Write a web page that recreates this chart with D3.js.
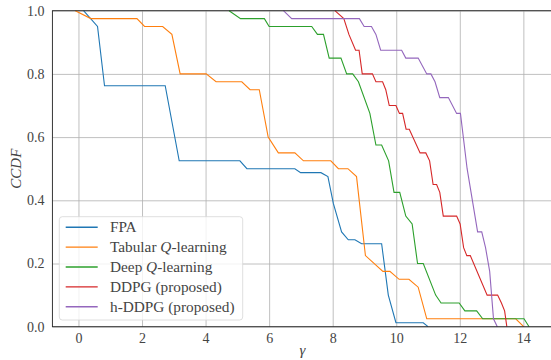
<!DOCTYPE html>
<html>
<head>
<meta charset="utf-8">
<script src="https://cdn.jsdelivr.net/npm/d3@7"></script>
<style>
  body { margin: 0; background: #fff; }
  text { font-family: "Liberation Serif", "DejaVu Serif", serif; }
</style>
</head>
<body>
<svg id="chart" width="551" height="360"></svg>
<script>
// CCDF curves (gamma, ccdf) per method
var fpaX = [0.16, 0.6, 0.82, 2.73, 3.17, 5.08, 5.3, 6.81, 6.99, 7.63, 7.85, 8.02, 8.28, 8.49, 8.7, 8.91, 9.54, 9.75, 9.99, 10.85, 11.0];
var fpaY = [1.0, 0.95, 0.7625, 0.7625, 0.525, 0.525, 0.5, 0.5, 0.4875, 0.4875, 0.475, 0.39, 0.3, 0.275, 0.275, 0.2625, 0.2625, 0.1, 0.0125, 0.0125, 0];

var tabX = [-0.1, 0.39, 1.84, 2.08, 2.65, 2.94, 3.2, 4.02, 4.33, 5.14, 5.4, 5.69, 5.97, 6.29, 6.81, 7.08, 7.94, 8.18, 8.48, 8.75, 9.03, 9.58, 9.8, 10.09, 10.4, 10.69, 10.96, 13.76, 14.01];
var tabY = [1.0, 0.975, 0.975, 0.95, 0.95, 0.925, 0.8, 0.8, 0.775, 0.775, 0.75, 0.75, 0.6, 0.55, 0.55, 0.525, 0.525, 0.5, 0.5, 0.475, 0.225, 0.175, 0.175, 0.15, 0.15, 0.125, 0.025, 0.025, 0];

var deepX = [4.74, 5.1, 5.85, 6.0, 7.34, 7.52, 7.71, 7.89, 8.26, 8.44, 8.63, 8.81, 9.17, 9.36, 9.54, 9.76, 9.93, 10.11, 10.3, 10.5, 10.67, 10.85, 11.24, 11.41, 11.98, 12.16, 12.53, 12.72, 14.02, 14.18];
var deepY = [1.0, 0.975, 0.975, 0.95, 0.95, 0.925, 0.925, 0.85, 0.85, 0.8, 0.8, 0.775, 0.675, 0.575, 0.575, 0.525, 0.425, 0.425, 0.35, 0.325, 0.2, 0.2, 0.1, 0.075, 0.075, 0.05, 0.05, 0.025, 0.025, 0];

var ddpgX = [8.07, 8.35, 8.51, 8.72, 8.83, 8.93, 9.25, 9.36, 9.57, 9.67, 9.78, 9.99, 10.1, 10.2, 10.31, 10.41, 10.75, 10.93, 11.05, 11.16, 11.27, 11.37, 11.48, 11.9, 12.01, 12.12, 12.22, 12.33, 12.86, 13.19, 13.31, 13.41, 13.48];
var ddpgY = [1.0, 0.975, 0.925, 0.875, 0.875, 0.8, 0.8, 0.775, 0.775, 0.75, 0.7, 0.7, 0.675, 0.675, 0.625, 0.625, 0.55, 0.55, 0.525, 0.45, 0.45, 0.425, 0.35, 0.35, 0.325, 0.25, 0.225, 0.225, 0.1, 0.1, 0.075, 0.05, 0];

var hddpgX = [6.45, 6.71, 8.84, 8.99, 9.22, 9.36, 9.51, 10.17, 10.3, 10.69, 10.96, 11.09, 11.22, 11.37, 11.64, 11.9, 12.02, 12.23, 12.56, 12.69, 12.81, 12.94, 13.06, 13.18];
var hddpgY = [1.0, 0.975, 0.975, 0.95, 0.95, 0.925, 0.875, 0.875, 0.85, 0.85, 0.8, 0.8, 0.775, 0.725, 0.725, 0.675, 0.675, 0.5, 0.3, 0.3, 0.25, 0.175, 0.025, 0];

var labels = ["FPA", "Tabular Q-learning", "Deep Q-learning", "DDPG (proposed)", "h-DDPG (proposed)"];
var colors = ["#1f77b4", "#ff7f0e", "#2ca02c", "#d62728", "#9467bd"];
var xTicks = [0, 2, 4, 6, 8, 10, 12, 14];
var yTicks = [0.0, 0.2, 0.4, 0.6, 0.8, 1.0];

var series = [[fpaX, fpaY], [tabX, tabY], [deepX, deepY], [ddpgX, ddpgY], [hddpgX, hddpgY]];

// plot box (window.top is reserved, so use other names)
var pLeft = 52.4, pRight = 552.6, pTop = 10.7, pBottom = 326.7;

var svg = d3.select("#chart");

var x = d3.scaleLinear().domain([-0.82, 14.92]).range([pLeft, pRight]);
var y = d3.scaleLinear().domain([0, 1]).range([pBottom, pTop]);

// grid
svg.append("g")
    .attr("transform", "translate(0," + pBottom + ")")
    .call(d3.axisBottom(x).tickValues(xTicks).tickSize(-(pBottom - pTop)).tickFormat(""))
    .call(function(g) {
      g.select(".domain").remove();
      g.selectAll("line").attr("stroke", "#b0b0b0").attr("stroke-width", 0.8);
    });
svg.append("g")
    .attr("transform", "translate(" + pLeft + ",0)")
    .call(d3.axisLeft(y).tickValues(yTicks).tickSize(-(pRight - pLeft)).tickFormat(""))
    .call(function(g) {
      g.select(".domain").remove();
      g.selectAll("line").attr("stroke", "#b0b0b0").attr("stroke-width", 0.8);
    });

var line = d3.line()
    .x(function(d) { return x(d[0]); })
    .y(function(d) { return y(d[1]); });

var plot = svg.append("g");
series.forEach(function(s, i) {
  var pts = s[0].map(function(v, j) { return [v, s[1][j]]; });
  plot.append("path")
      .datum(pts)
      .attr("fill", "none")
      .attr("stroke", colors[i])
      .attr("stroke-width", 1.1)
      .attr("d", line);
});

// spines
svg.append("rect")
    .attr("x", pLeft).attr("y", pTop)
    .attr("width", pRight - pLeft).attr("height", pBottom - pTop)
    .attr("fill", "none").attr("stroke", "#222").attr("stroke-width", 0.9);

// tick labels
var xAxis = svg.append("g")
    .attr("transform", "translate(0," + pBottom + ")")
    .call(d3.axisBottom(x).tickValues(xTicks).tickSize(0).tickPadding(6).tickFormat(d3.format("d")));
xAxis.select(".domain").remove();
xAxis.selectAll("text").attr("font-size", 14).attr("fill", "#444")
    .style("font-family", "'Liberation Serif', serif");

var yAxis = svg.append("g")
    .attr("transform", "translate(" + pLeft + ",0)")
    .call(d3.axisLeft(y).tickValues(yTicks).tickSize(0).tickPadding(8).tickFormat(d3.format(".1f")));
yAxis.select(".domain").remove();
yAxis.selectAll("text").attr("font-size", 14).attr("fill", "#444")
    .style("font-family", "'Liberation Serif', serif");

// axis labels
svg.append("text")
    .attr("x", (pLeft + pRight) / 2).attr("y", 355)
    .attr("text-anchor", "middle")
    .attr("font-size", 15).attr("font-style", "italic").attr("fill", "#444")
    .text("γ");

svg.append("text")
    .attr("transform", "translate(21," + ((pTop + pBottom) / 2) + ") rotate(-90)")
    .attr("text-anchor", "middle")
    .attr("font-size", 15).attr("font-style", "italic").attr("fill", "#444")
    .text("CCDF");

// legend
var lg = svg.append("g");
lg.append("rect")
    .attr("x", 59.3).attr("y", 216.7).attr("width", 183.4).attr("height", 103.3)
    .attr("rx", 3)
    .attr("fill", "#fff").attr("fill-opacity", 0.8)
    .attr("stroke", "#d6d6d6").attr("stroke-width", 0.8);

labels.forEach(function(lab, i) {
  var ly = 227.3 + i * 19.85;
  lg.append("line")
      .attr("x1", 65.7).attr("x2", 97.7).attr("y1", ly).attr("y2", ly)
      .attr("stroke", colors[i]).attr("stroke-width", 1.4);
  var t = lg.append("text")
      .attr("x", 110).attr("y", ly + 4.8)
      .attr("font-size", 15.3).attr("fill", "#444");
  var m = lab.match(/^(.*)Q(-learning)$/);
  if (m) {
    t.append("tspan").text(m[1]);
    t.append("tspan").attr("font-style", "italic").text("Q");
    t.append("tspan").text(m[2]);
  } else {
    t.text(lab);
  }
});
</script>
</body>
</html>
